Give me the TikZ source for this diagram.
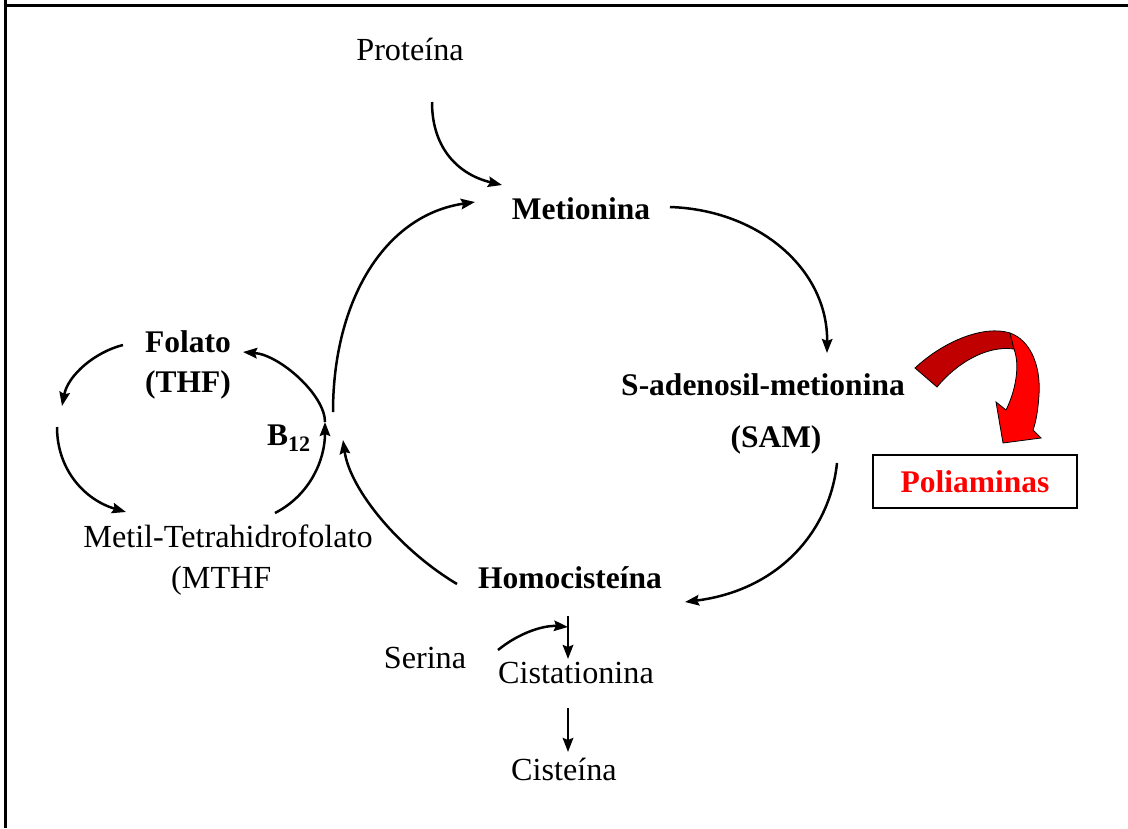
\documentclass[tikz,border=0pt]{standalone}
\usepackage{fontspec}
\setmainfont{Liberation Serif}
\usetikzlibrary{arrows.meta}
\definecolor{darkred}{HTML}{C00000}
\definecolor{brightred}{HTML}{FF0000}
\tikzset{
  lbl/.style={inner sep=0pt, anchor=base, font=\fontsize{32.2}{36}\selectfont},
  blbl/.style={inner sep=0pt, anchor=base, font=\fontsize{31.5}{36}\selectfont\bfseries},
  conn/.style={line width=2.5pt, -{Stealth[length=14pt,width=10.5pt,inset=2pt]}},
  frameline/.style={line width=3pt},
}
\begin{document}
\begin{tikzpicture}[x=1pt,y=-1pt]
\useasboundingbox (0,0) rectangle (1128,828);
\fill[white] (0,0) rectangle (1128,828);
% cell border
\draw[frameline] (5,0) -- (5,828);
\draw[frameline] (3.5,5) -- (1128,5);

% labels
\node[lbl]  (prot)  at (410,60)  {Proteína};
\node[blbl] (met)   at (581,219) {Metionina};
\node[blbl] (fol)   at (188,352) {Folato};
\node[blbl] (thf)   at (188,392) {(THF)};
\node[blbl, anchor=base west] (b12) at (267,445) {B\textsubscript{12}};
\node[blbl] (sam1)  at (763,395) {S-adenosil-metionina};
\node[blbl] (sam2)  at (776,447) {(SAM)};
\node[draw, line width=2pt, minimum width=204pt, minimum height=53pt, inner sep=0pt,
      text=brightred, font=\fontsize{31.5}{36}\selectfont\bfseries] (poli) at (975,481.5) {Poliaminas};
\node[lbl]  (mthf1) at (228,547) {Metil-Tetrahidrofolato};
\node[lbl, anchor=base west] (mthf2) at (171,588) {(MTHF};
\node[blbl] (hcy)   at (570,588) {Homocisteína};
\node[lbl]  (ser)   at (425,668) {Serina};
\node[lbl]  (cist)  at (576,683) {Cistationina};
\node[lbl]  (cis)   at (564,780) {Cisteína};

% connector end points
\coordinate (protS) at (432,102);
\coordinate (metW)  at (502,185);
\coordinate (remS)  at (333,412);
\coordinate (metSW) at (475,202);
\coordinate (metE)  at (670,207);
\coordinate (samN)  at (827,353);
\coordinate (samS)  at (837,463);
\coordinate (hcyE)  at (685,602);
\coordinate (hcyW)  at (457,584);
\coordinate (remN)  at (343,440);
\coordinate (folW)  at (123,345);
\coordinate (cycW1) at (62,406);
\coordinate (cycW2) at (57,427);
\coordinate (mthfN) at (126,512);
\coordinate (mthfE) at (275,513);
\coordinate (b12m)  at (325,422);
\coordinate (folE)  at (243,352);
\coordinate (serE)  at (498,650);
\coordinate (cstTop) at (568,616);
\coordinate (cstIn) at (568,627);
\coordinate (cistN) at (568,659);
\coordinate (cistS) at (568,708);
\coordinate (cisN)  at (568,752);

% methionine cycle
\draw[conn] (protS) .. controls (432,150) and (460,175) .. (metW);
\draw[conn] (remS) .. controls (333,300) and (385,215) .. (metSW);
\draw[conn] (metE) .. controls (760,210) and (828,270) .. (samN);
\draw[conn] (samS) .. controls (830,530) and (780,590) .. (hcyE);
\draw[conn] (hcyW) .. controls (400,550) and (350,490) .. (remN);

% folate cycle
\draw[conn] (folW) .. controls (95,352) and (68,375) .. (cycW1);
\draw[conn] (cycW2) .. controls (57,470) and (85,500) .. (mthfN);
\draw[conn] (mthfE) .. controls (310,495) and (325,460) .. (b12m);
\draw[conn] (b12m) .. controls (325,395) and (280,355) .. (folE);

% transsulfuration
\draw[conn] (serE) .. controls (520,632) and (545,625) .. (cstIn);
\draw[conn] (cstTop) -- (cistN);
\draw[conn] (cistS) -- (cisN);

% curved block arrow towards the polyamines
\filldraw[fill=darkred, draw=black, line width=0.8pt]
  (915,368) .. controls (945,340) and (985,325) .. (1010,333)
  -- (1014,349) .. controls (985,345) and (955,365) .. (937,387) -- cycle;
\filldraw[fill=brightred, draw=black, line width=0.8pt]
  (1010,333) .. controls (1030,340) and (1041,365) .. (1039,395)
  .. controls (1038,410) and (1036,422) .. (1033,430)
  -- (1041,438) -- (1003,443) -- (996,402) -- (1006,410)
  .. controls (1016,390) and (1020,365) .. (1014,349) -- cycle;
\end{tikzpicture}
\end{document}
